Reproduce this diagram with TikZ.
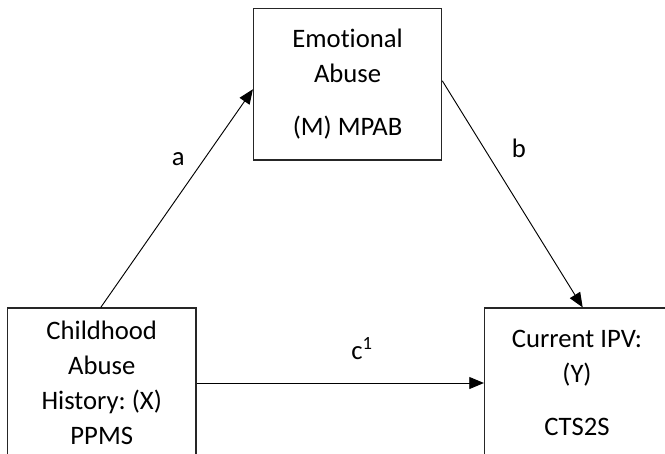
\documentclass[tikz,border=0pt]{standalone}
\usepackage{fontspec}
\setmainfont{Carlito}[Ligatures={NoCommon}]
\usetikzlibrary{arrows.meta}
\begin{document}
\frenchspacing
\begin{tikzpicture}[x=0.75pt,y=-0.75pt,
  box/.style={draw=black!85,line width=0.85pt,rectangle,inner sep=0pt,align=center,
    font=\fontsize{20}{26.25}\selectfont},
  conn/.style={line width=0.7pt,-{Triangle[length=11pt,width=9pt]}},
  lab/.style={font=\fontsize{20}{24}\selectfont,inner sep=0pt}]
\useasboundingbox (0,0) rectangle (665,454);
\clip (0,0) rectangle (665,454);
\node[box,minimum width=188.2*0.75pt,minimum height=151.5*0.75pt] (m) at (347.6,84.25)
  {Emotional\\Abuse\\[13pt](M) MPAB};
\node[box,minimum width=188.5*0.75pt,minimum height=150*0.75pt] (x) at (101.75,383)
  {Childhood\\Abuse\\History: (X)\\PPMS};
\node[box,minimum width=185*0.75pt,minimum height=150*0.75pt] (y) at (577,383)
  {Current IPV:\\(Y)\\[13.5pt]CTS2S};
\coordinate (aend) at ([yshift=-5*0.75pt]m.west);
\coordinate (bstart) at ([yshift=3.5*0.75pt]m.east);
\coordinate (bend) at ([xshift=5.7*0.75pt]y.north);
\draw[conn] ([xshift=-1*0.75pt]x.north) -- (aend);
\draw[conn] (bstart) -- (bend);
\draw[conn] (x.east) -- (y.west);
\node[lab] (la) at (178.3,159.3) {a};
\node[lab] (lb) at (519,148.3) {b};
\node[lab] (lc) at (362,349) {c\textsuperscript{1}};
\end{tikzpicture}
\end{document}
